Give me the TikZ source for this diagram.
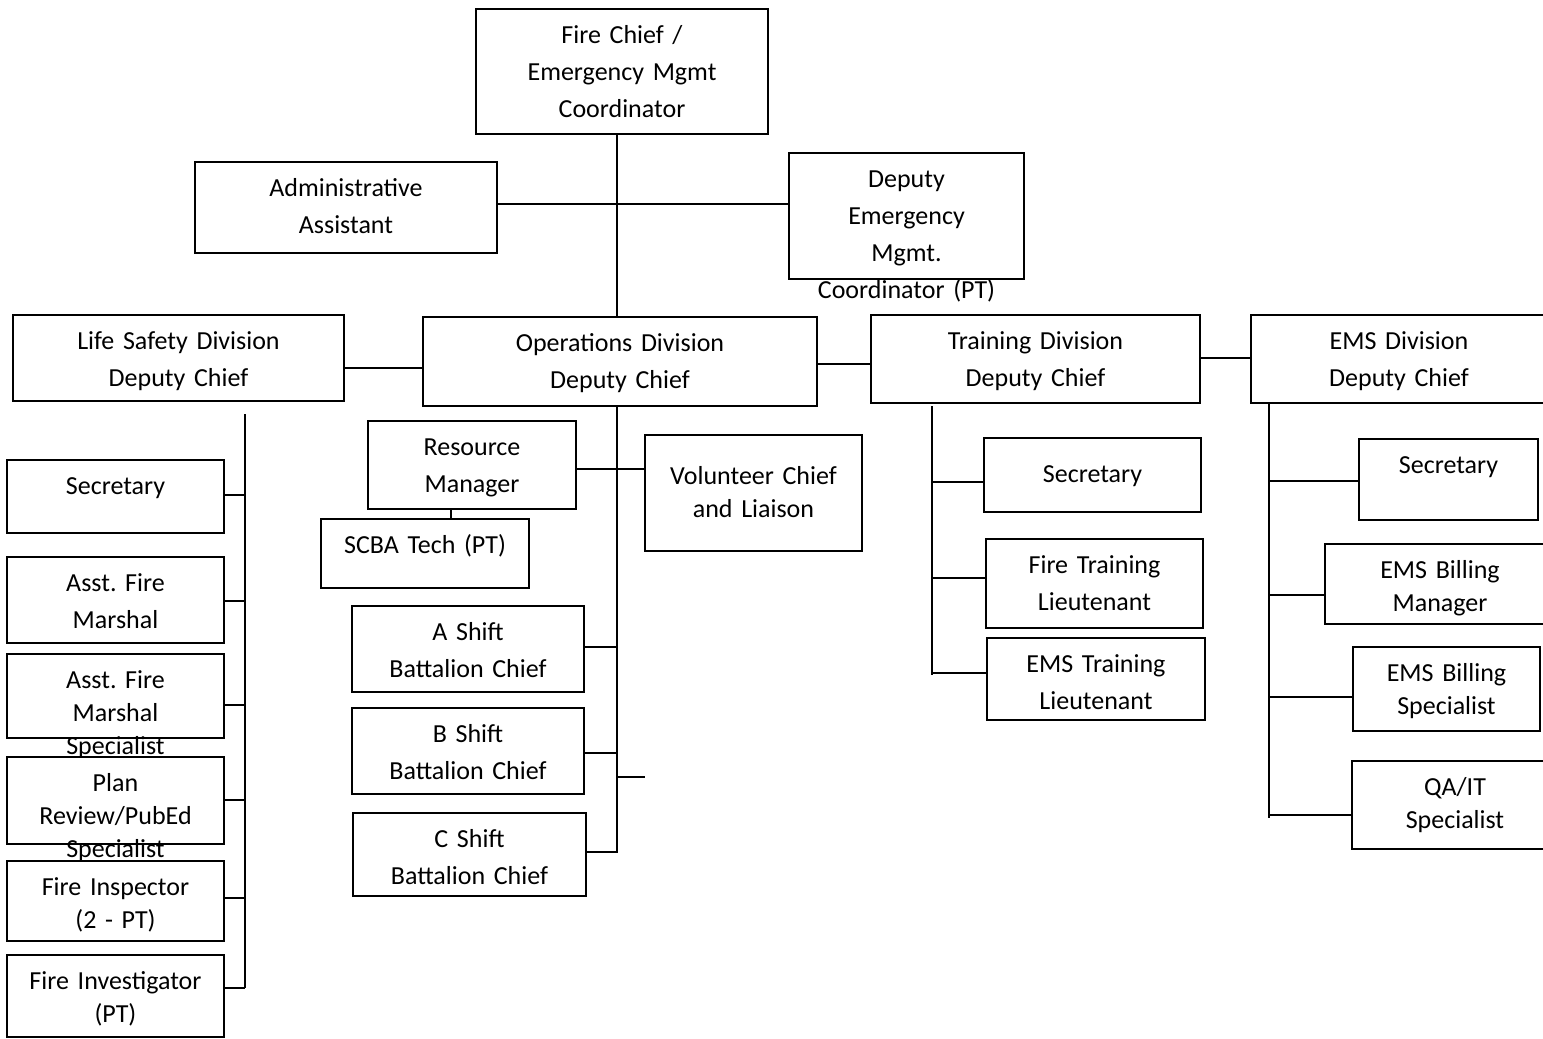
\documentclass[tikz,border=0pt]{standalone}
\usepackage{fontspec}
\setmainfont{Carlito}
\frenchspacing
\usetikzlibrary{fit}

\tikzset{
  box/.style={draw, fill=white, line width=1.8pt, inner sep=0pt},
  txt/.style={anchor=north, inner sep=0pt, yshift=-9.5pt, align=center, text width=300pt,
    font=\fontsize{26}{37}\selectfont, execute at begin node={\rule{0pt}{26pt}}},
  tight/.style={font=\fontsize{26}{33}\selectfont},
  link/.style={line width=1.5pt}
}

\begin{document}
\begin{tikzpicture}[x=1pt,y=-1pt]
	\useasboundingbox (0,0) rectangle (1543,1039);
	\clip (0,0) rectangle (1543,1039);
	% top
	\node[box, fit={(476,9) (768,134)}] (chief) {};
	\node[txt] (chief-t) at (chief.north) {Fire Chief /\\Emergency Mgmt\\Coordinator};
	\node[box, fit={(195,162) (497,253)}] (admin) {};
	\node[txt] (admin-t) at (admin.north) {Administrative\\Assistant};
	\node[box, fit={(789,153) (1024,279)}] (depem) {};
	\node[txt] (depem-t) at (depem.north) {Deputy\\Emergency\\Mgmt.\\Coordinator (PT)};
	% divisions
	\node[box, fit={(13,315) (344,401)}] (lsdiv) {};
	\node[txt] (lsdiv-t) at (lsdiv.north) {Life Safety Division\\Deputy Chief};
	\node[box, fit={(423,317) (817,406)}] (opsdiv) {};
	\node[txt] (opsdiv-t) at (opsdiv.north) {Operations Division\\Deputy Chief};
	\node[box, fit={(871,315) (1200,403)}] (trndiv) {};
	\node[txt] (trndiv-t) at (trndiv.north) {Training Division\\Deputy Chief};
	\node[box, fit={(1251,315) (1547,403)}] (emsdiv) {};
	\node[txt] (emsdiv-t) at (emsdiv.north) {EMS Division\\Deputy Chief};
	% life safety
	\node[box, fit={(7,460) (224,533)}] (lssec) {};
	\node[txt] (lssec-t) at (lssec.north) {Secretary};
	\node[box, fit={(7,557) (224,643)}] (lsafm) {};
	\node[txt] (lsafm-t) at (lsafm.north) {Asst. Fire\\Marshal};
	\node[box, fit={(7,654) (224,738)}] (lsafms) {};
	\node[txt, tight] (lsafms-t) at (lsafms.north) {Asst. Fire\\Marshal\\Specialist};
	\node[box, fit={(7,757) (224,844)}] (lsplan) {};
	\node[txt, tight] (lsplan-t) at (lsplan.north) {Plan\\Review/PubEd\\Specialist};
	\node[box, fit={(7,861) (224,941)}] (lsinsp) {};
	\node[txt, tight] (lsinsp-t) at (lsinsp.north) {Fire Inspector\\(2 - PT)};
	\node[box, fit={(7,955) (224,1037)}] (lsinv) {};
	\node[txt, tight] (lsinv-t) at (lsinv.north) {Fire Investigator\\(PT)};
	% operations
	\node[box, fit={(368,421) (576,509)}] (resmgr) {};
	\node[txt] (resmgr-t) at (resmgr.north) {Resource\\Manager};
	\node[box, fit={(321,519) (529,588)}] (scba) {};
	\node[txt] (scba-t) at (scba.north) {SCBA Tech (PT)};
	\node[box, fit={(645,435) (862,551)}] (volchief) {};
	\node[txt, tight, yshift=-15pt] (volchief-t) at (volchief.north) {Volunteer Chief\\and Liaison};
	\node[box, fit={(352,606) (584,692)}] (ashift) {};
	\node[txt] (ashift-t) at (ashift.north) {A Shift\\Battalion Chief};
	\node[box, fit={(352,708) (584,794)}] (bshift) {};
	\node[txt] (bshift-t) at (bshift.north) {B Shift\\Battalion Chief};
	\node[box, fit={(353,813) (586,896)}] (cshift) {};
	\node[txt] (cshift-t) at (cshift.north) {C Shift\\Battalion Chief};
	% training
	\node[box, fit={(984,438) (1201,512)}] (trnsec) {};
	\node[txt, yshift=-10pt] (trnsec-t) at (trnsec.north) {Secretary};
	\node[box, fit={(986,539) (1203,628)}] (firelt) {};
	\node[txt] (firelt-t) at (firelt.north) {Fire Training\\Lieutenant};
	\node[box, fit={(987,638) (1205,720)}] (emslt) {};
	\node[txt] (emslt-t) at (emslt.north) {EMS Training\\Lieutenant};
	% ems
	\node[box, fit={(1359,439) (1538,520)}] (emssec) {};
	\node[txt] (emssec-t) at (emssec.north) {Secretary};
	\node[box, fit={(1325,544) (1555,624)}] (billmgr) {};
	\node[txt, tight] (billmgr-t) at (billmgr.north) {EMS Billing\\Manager};
	\node[box, fit={(1353,647) (1540,731)}] (billspec) {};
	\node[txt, tight] (billspec-t) at (billspec.north) {EMS Billing\\Specialist};
	\node[box, fit={(1352,761) (1558,849)}] (qait) {};
	\node[txt, tight] (qait-t) at (qait.north) {QA/IT\\Specialist};
	% connectors
	\coordinate (lsbus) at (245,414);
	\coordinate (opsbus) at (617,406);
	\coordinate (trnbus) at (932,406);
	\coordinate (emsbus) at (1269,403);
	\coordinate (opsstub) at (645,777);
	\draw[link] (chief.south -| opsbus) -- (opsdiv.north -| opsbus);
	\draw[link] (admin.east |- 0,204) -- (depem.west |- 0,204);
	\draw[link] (lsdiv.east |- 0,368) -- (opsdiv.west |- 0,368);
	\draw[link] (opsdiv.east |- 0,364) -- (trndiv.west |- 0,364);
	\draw[link] (trndiv.east |- 0,358) -- (emsdiv.west |- 0,358);
	\draw[link] (lsbus) -- (lsbus |- 0,988);
	\foreach \n/\y in {lssec/495, lsafm/601, lsafms/705, lsplan/800, lsinsp/898, lsinv/988}
		\draw[link] (\n.east |- 0,\y) -- (lsbus |- 0,\y);
	\draw[link] (opsbus) -- (opsbus |- 0,853);
	\foreach \n/\y in {ashift/647, bshift/753, cshift/852}
		\draw[link] (\n.east |- 0,\y) -- (opsbus |- 0,\y);
	\draw[link] (opsbus |- opsstub) -- (opsstub);
	\draw[link] (resmgr.east |- 0,469) -- (volchief.west |- 0,469);
	\draw[link] (resmgr.south -| 451,0) -- (scba.north -| 451,0);
	\draw[link] (trnbus) -- (trnbus |- 0,675);
	\foreach \n/\y in {trnsec/482, firelt/578, emslt/673}
		\draw[link] (trnbus |- 0,\y) -- (\n.west |- 0,\y);
	\draw[link] (emsbus) -- (emsbus |- 0,818);
	\foreach \n/\y in {emssec/481, billmgr/595, billspec/697, qait/815}
		\draw[link] (emsbus |- 0,\y) -- (\n.west |- 0,\y);
\end{tikzpicture}
\end{document}
